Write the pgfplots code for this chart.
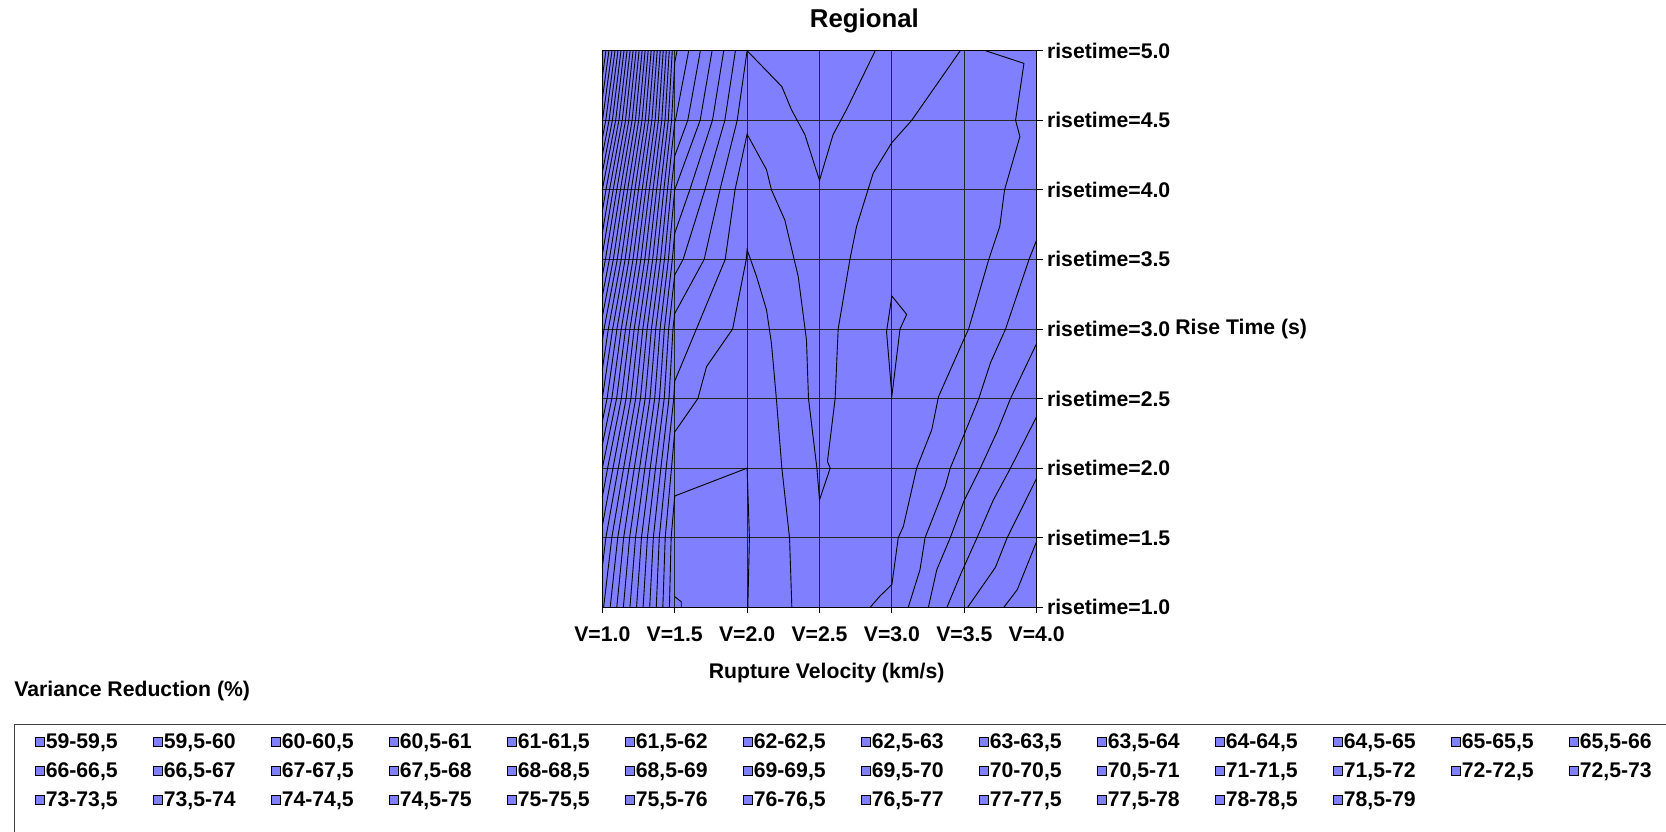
\documentclass[border=0pt]{standalone}
\usepackage{fontspec}
\setmainfont{Liberation Sans}
\usepackage{pgfplots}
\pgfplotsset{compat=1.18}

\definecolor{plotfill}{RGB}{128,128,255}
\pgfplotsset{
  cline/.style={black, line width=0.45pt, mark=none, forget plot},
  legsq/.style={legend image code/.code={%
      \draw[fill=plotfill, draw=black, line width=0.6pt] (0pt,-2.3pt) rectangle (4.6pt,2.3pt);}},
}
\newcommand{\lbl}{\bfseries\fontsize{10.6}{12.7}\selectfont}

\begin{document}
\begin{tikzpicture}
\useasboundingbox (0,0) rectangle (833pt,415.5pt);

\begin{axis}[
  at={(301.15pt,111.85pt)}, anchor=south west,
  scale only axis, width=217.2pt, height=278.3pt,
  xmin=1, xmax=4, ymin=1, ymax=5,
  clip=false,
  axis background/.style={fill=plotfill},
  xtick={1,1.5,2,2.5,3,3.5,4},
  xticklabels={{V=1.0},{V=1.5},{V=2.0},{V=2.5},{V=3.0},{V=3.5},{V=4.0}},
  ytick={1,1.5,2,2.5,3,3.5,4,4.5,5},
  yticklabels={{risetime=1.0},{risetime=1.5},{risetime=2.0},{risetime=2.5},{risetime=3.0},{risetime=3.5},{risetime=4.0},{risetime=4.5},{risetime=5.0}},
  xtick pos=bottom, ytick pos=right, yticklabel pos=right,
  tick align=outside, major tick length=3pt,
  tick style={black, line width=0.5pt},
  grid=major, major grid style={black!85, line width=0.5pt},
  axis line style={black, line width=0.5pt},
  ticklabel style={font=\lbl},
  xticklabel style={anchor=north, inner ysep=0pt, yshift=-6.7pt},
  yticklabel style={anchor=west, inner xsep=0pt, xshift=2pt},
  legend columns=14,
  legend cell align=left,
  legend style={
    at={(-1.3059,-0.22584)}, anchor=north west,
    draw=none, fill=none, inner sep=0pt, outer sep=0pt,
    font=\lbl,
    nodes={inner xsep=0.2pt, inner ysep=0pt, text height=7.6pt, text depth=1.6pt, text width=51pt, align=left},
    /tikz/column sep=0pt,
    /tikz/every even column/.append style={column sep=2.4pt},
    row sep=5.3pt,
  },
]

% ---- contour lines, left part of the grid (V = 1.0 ... 2.0)
\addplot[cline] coordinates {(1.0042,5) (1,4.968)};
\addplot[cline] coordinates {(1.025,5) (1,4.809)};
\addplot[cline] coordinates {(1.0458,5) (1,4.650)};
\addplot[cline] coordinates {(1.0667,5) (1.0014,4.5) (1,4.4926)};
\addplot[cline] coordinates {(1.0875,5) (1.0241,4.5) (1,4.369)};
\addplot[cline] coordinates {(1.1083,5) (1.0468,4.5) (1,4.2463)};
\addplot[cline] coordinates {(1.1292,5) (1.0695,4.5) (1,4.1232)};
\addplot[cline] coordinates {(1.15,5) (1.0923,4.5) (1,4.0)};
\addplot[cline] coordinates {(1.1708,5) (1.115,4.5) (1.025,4) (1,3.844)};
\addplot[cline] coordinates {(1.1917,5) (1.1377,4.5) (1.05,4) (1,3.6875)};
\addplot[cline] coordinates {(1.2125,5) (1.1605,4.5) (1.075,4) (1,3.531)};
\addplot[cline] coordinates {(1.2333,5) (1.1832,4.5) (1.1,4) (1.0217,3.5) (1,3.382)};
\addplot[cline] coordinates {(1.2542,5) (1.2059,4.5) (1.125,4) (1.0489,3.5) (1,3.235)};
\addplot[cline] coordinates {(1.275,5) (1.2286,4.5) (1.15,4) (1.0761,3.5) (1,3.088)};
\addplot[cline] coordinates {(1.2958,5) (1.2514,4.5) (1.175,4) (1.1033,3.5) (1.0119,3) (1,2.917)};
\addplot[cline] coordinates {(1.3167,5) (1.2741,4.5) (1.2,4) (1.1304,3.5) (1.0417,3) (1,2.708)};
\addplot[cline] coordinates {(1.3375,5) (1.2968,4.5) (1.225,4) (1.1576,3.5) (1.0714,3) (1,2.5)};
\addplot[cline] coordinates {(1.3583,5) (1.3195,4.5) (1.25,4) (1.1848,3.5) (1.1012,3) (1.0329,2.5) (1,2.333)};
\addplot[cline] coordinates {(1.3792,5) (1.3423,4.5) (1.275,4) (1.2120,3.5) (1.131,3) (1.0658,2.5) (1,2.1667)};
\addplot[cline] coordinates {(1.4,5) (1.365,4.5) (1.3,4) (1.2391,3.5) (1.1607,3) (1.0987,2.5) (1,2)};
\addplot[cline] coordinates {(1.4208,5) (1.3877,4.5) (1.325,4) (1.2663,3.5) (1.1905,3) (1.1316,2.5) (1.0368,2) (1,1.792)};
\addplot[cline] coordinates {(1.4417,5) (1.4105,4.5) (1.35,4) (1.2935,3.5) (1.2202,3) (1.1645,2.5) (1.0735,2) (1,1.583)};
\addplot[cline] coordinates {(1.4625,5) (1.4332,4.5) (1.375,4) (1.3207,3.5) (1.25,3) (1.1974,2.5) (1.1103,2) (1.0246,1.5) (1,1.286)};
\addplot[cline] coordinates {(1.4833,5) (1.4559,4.5) (1.4,4) (1.3478,3.5) (1.2798,3) (1.2303,2.5) (1.1471,2) (1.0656,1.5) (1.0091,1)};
\addplot[cline] coordinates {(1.5161,5) (1.5,4.912) (1.4786,4.5) (1.425,4) (1.375,3.5) (1.3095,3) (1.2632,2.5) (1.1838,2) (1.1066,1.5) (1.0545,1)};
\addplot[cline] coordinates {(1.5968,5) (1.5051,4.5) (1.5,4.4854) (1.45,4) (1.4022,3.5) (1.3393,3) (1.2961,2.5) (1.2206,2) (1.1475,1.5) (1.1,1)};
\addplot[cline] coordinates {(1.6774,5) (1.5904,4.5) (1.5,4.243) (1.475,4) (1.4293,3.5) (1.369,3) (1.3289,2.5) (1.2574,2) (1.1885,1.5) (1.1455,1)};
\addplot[cline] coordinates {(1.7581,5) (1.6758,4.5) (1.5,4) (1.4565,3.5) (1.3988,3) (1.3618,2.5) (1.2941,2) (1.2295,1.5) (1.1909,1)};
\addplot[cline] coordinates {(1.8387,5) (1.7611,4.5) (1.6042,4) (1.5,3.6875) (1.4837,3.5) (1.4286,3) (1.3947,2.5) (1.3309,2) (1.2705,1.5) (1.2364,1)};
\addplot[cline] coordinates {(1.9194,5) (1.8464,4.5) (1.7083,4) (1.5581,3.5) (1.5,3.3889) (1.4583,3) (1.4276,2.5) (1.3676,2) (1.3115,1.5) (1.2818,1)};

% ---- contours crossing the middle of the grid
\addplot[cline] coordinates {(2.885,5) (2.687,4.577) (2.594,4.397) (2.5,4.068) (2.399,4.397) (2.306,4.577) (2.24,4.742) (2.0,5) (1.9317,4.5) (1.8125,4) (1.7035,3.5) (1.5,3.1111) (1.4881,3) (1.4605,2.5) (1.4044,2) (1.3525,1.5) (1.3273,1)};
\addplot[cline] coordinates {(3.472,5) (3.137,4.5) (2.998,4.337) (2.871,4.121) (2.756,3.737) (2.71,3.5) (2.629,3.0) (2.608,2.5) (2.555,2.048) (2.574,2.0) (2.5,1.772) (2.482,2.0) (2.424,2.5) (2.41,2.922) (2.353,3.378) (2.26,3.785) (2.168,4.0) (2.134,4.145) (2.0,4.4) (1.9167,4) (1.8488,3.5) (1.65,3) (1.5,2.625) (1.4934,2.5) (1.4412,2) (1.3934,1.5) (1.3727,1)};
\addplot[cline] coordinates {(2.309,1.0) (2.293,1.5) (2.24,2.0) (2.203,2.49) (2.168,2.898) (2.134,3.138) (2.065,3.378) (2.0,3.57) (1.9942,3.5) (1.9,3) (1.72,2.73) (1.66,2.5) (1.5,2.26) (1.4779,2) (1.4344,1.5) (1.4182,1)};
\addplot[cline] coordinates {(2.005,1.0) (2.016,1.5) (2.0,2.0) (1.5,1.8) (1.4754,1.5) (1.4636,1)};
\addplot[cline] coordinates {(1.5,1.077) (1.545,1.04) (1.545,1.0)};
\addplot[cline] coordinates {(3.0,3.237) (3.102,3.105) (3.056,3.0) (3.0,2.52) (2.963,2.981) (3.0,3.237)};

% ---- contours on the right (V = 2.8 ... 4.0)
\addplot[cline] coordinates {(3.646,5) (3.912,4.909) (3.854,4.5) (3.884,4.383) (3.778,4) (3.745,3.737) (3.669,3.5) (3.53,3) (3.495,2.921) (3.322,2.514) (3.275,2.275) (3.171,2.0) (3.079,1.581) (3.044,1.5) (3.0,1.164) (2.917,1.08) (2.85,1.0)};
\addplot[cline] coordinates {(4.0,3.641) (3.947,3.5) (3.785,3.0) (3.681,2.758) (3.6,2.5) (3.507,2.263) (3.403,2.0) (3.368,1.868) (3.229,1.5) (3.194,1.27) (3.113,1.0)};
\addplot[cline] coordinates {(4.0,2.897) (3.819,2.5) (3.73,2.27) (3.611,2.0) (3.50,1.77) (3.403,1.5) (3.31,1.27) (3.252,1.0)};
\addplot[cline] coordinates {(4.0,2.371) (3.819,2.0) (3.70,1.77) (3.588,1.5) (3.48,1.25) (3.380,1.0)};
\addplot[cline] coordinates {(4.0,1.928) (3.796,1.5) (3.715,1.287) (3.523,1.0)};
\addplot[cline] coordinates {(4.0,1.474) (3.866,1.127) (3.773,1.0)};

% ---- legend of the value bands
\addlegendimage{legsq}\addlegendentry{59-59,5}
\addlegendimage{legsq}\addlegendentry{59,5-60}
\addlegendimage{legsq}\addlegendentry{60-60,5}
\addlegendimage{legsq}\addlegendentry{60,5-61}
\addlegendimage{legsq}\addlegendentry{61-61,5}
\addlegendimage{legsq}\addlegendentry{61,5-62}
\addlegendimage{legsq}\addlegendentry{62-62,5}
\addlegendimage{legsq}\addlegendentry{62,5-63}
\addlegendimage{legsq}\addlegendentry{63-63,5}
\addlegendimage{legsq}\addlegendentry{63,5-64}
\addlegendimage{legsq}\addlegendentry{64-64,5}
\addlegendimage{legsq}\addlegendentry{64,5-65}
\addlegendimage{legsq}\addlegendentry{65-65,5}
\addlegendimage{legsq}\addlegendentry{65,5-66}
\addlegendimage{legsq}\addlegendentry{66-66,5}
\addlegendimage{legsq}\addlegendentry{66,5-67}
\addlegendimage{legsq}\addlegendentry{67-67,5}
\addlegendimage{legsq}\addlegendentry{67,5-68}
\addlegendimage{legsq}\addlegendentry{68-68,5}
\addlegendimage{legsq}\addlegendentry{68,5-69}
\addlegendimage{legsq}\addlegendentry{69-69,5}
\addlegendimage{legsq}\addlegendentry{69,5-70}
\addlegendimage{legsq}\addlegendentry{70-70,5}
\addlegendimage{legsq}\addlegendentry{70,5-71}
\addlegendimage{legsq}\addlegendentry{71-71,5}
\addlegendimage{legsq}\addlegendentry{71,5-72}
\addlegendimage{legsq}\addlegendentry{72-72,5}
\addlegendimage{legsq}\addlegendentry{72,5-73}
\addlegendimage{legsq}\addlegendentry{73-73,5}
\addlegendimage{legsq}\addlegendentry{73,5-74}
\addlegendimage{legsq}\addlegendentry{74-74,5}
\addlegendimage{legsq}\addlegendentry{74,5-75}
\addlegendimage{legsq}\addlegendentry{75-75,5}
\addlegendimage{legsq}\addlegendentry{75,5-76}
\addlegendimage{legsq}\addlegendentry{76-76,5}
\addlegendimage{legsq}\addlegendentry{76,5-77}
\addlegendimage{legsq}\addlegendentry{77-77,5}
\addlegendimage{legsq}\addlegendentry{77,5-78}
\addlegendimage{legsq}\addlegendentry{78-78,5}
\addlegendimage{legsq}\addlegendentry{78,5-79}
\end{axis}

% titles and axis captions
\node[font=\bfseries\fontsize{12.9}{15.5}\selectfont] at (432.2pt,404.9pt) {Regional};
\node[font=\lbl, inner sep=0pt] at (413.3pt,79.2pt) {Rupture Velocity (km/s)};
\node[font=\lbl, inner sep=0pt, anchor=west] at (587.5pt,250.8pt) {Rise Time (s)};
\node[font=\lbl, inner sep=0pt, anchor=west] at (7pt,70.2pt) {Variance Reduction (\%)};
% frame round the legend
\draw[black!75, line width=0.5pt] (850pt,53.5pt) -- (7.2pt,53.5pt) -- (7.2pt,-10pt);
\end{tikzpicture}
\end{document}
